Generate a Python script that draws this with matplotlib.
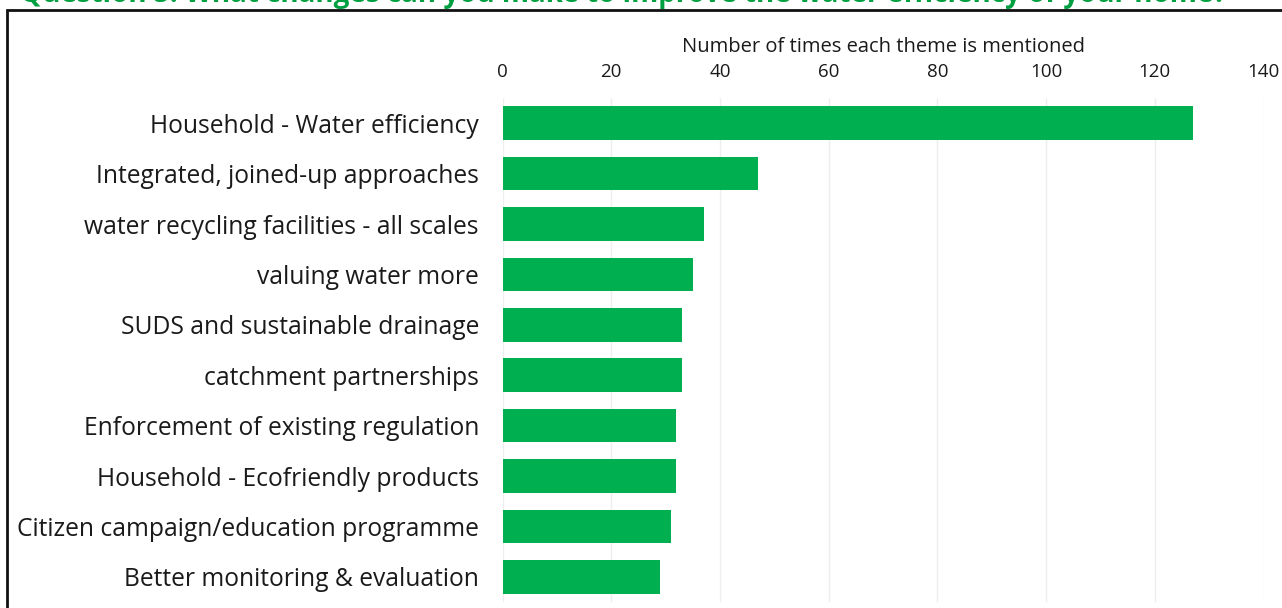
import matplotlib.pyplot as plt
from matplotlib.patches import Rectangle

themes = [
    'Household - Water efficiency',
    'Integrated, joined-up approaches',
    'water recycling facilities - all scales',
    'valuing water more',
    'SUDS and sustainable drainage',
    'catchment partnerships',
    'Enforcement of existing regulation',
    'Household - Ecofriendly products',
    'Citizen campaign/education programme',
    'Better monitoring & evaluation',
]
mentions = [127, 47, 37, 35, 33, 33, 32, 32, 31, 29]
xticks = [0, 20, 40, 60, 80, 100, 120, 140]

plt.rcParams['font.family'] = ['Open Sans', 'DejaVu Sans']

W, H = 1282, 608
fig = plt.figure(figsize=(W / 100, H / 100), dpi=100)
ax = fig.add_axes([502.5 / W, 1 - 602 / H, 761 / W, 504 / H])

pos = list(range(len(themes)))
ax.barh(pos, mentions, height=0.67, color='#00B050', zorder=3)
ax.set_ylim(len(themes) - 0.5, -0.5)
ax.set_xlim(0, 140)
ax.set_yticks(pos)
ax.set_yticklabels(themes, fontsize=17.7, color='#1a1a1a')
ax.set_xticks(xticks)
ax.xaxis.tick_top()
ax.xaxis.set_label_position('top')
ax.tick_params(axis='x', labelsize=13.5, colors='#1a1a1a', length=0, pad=12)
ax.tick_params(axis='y', length=0, pad=17)
ax.set_xlabel('Number of times each theme is mentioned', fontsize=14.5,
              color='#1a1a1a', labelpad=8)
ax.grid(axis='x', color='#eeeeee', linewidth=1, zorder=0)
for s in ax.spines.values():
    s.set_visible(False)

# frame around the chart area
fig.patches.append(Rectangle((7 / W, -0.1), 1.1, 1 - 10 / H + 0.1,
                             transform=fig.transFigure, fill=False,
                             edgecolor='#111111', linewidth=2))

fig.text(20 / W, 1 - 2 / H,
         'Question 5: What changes can you make to improve the water efficiency of your home?',
         fontsize=20, fontweight='bold', color='#00A040', va='baseline')

fig.savefig('out.png', dpi=100)
